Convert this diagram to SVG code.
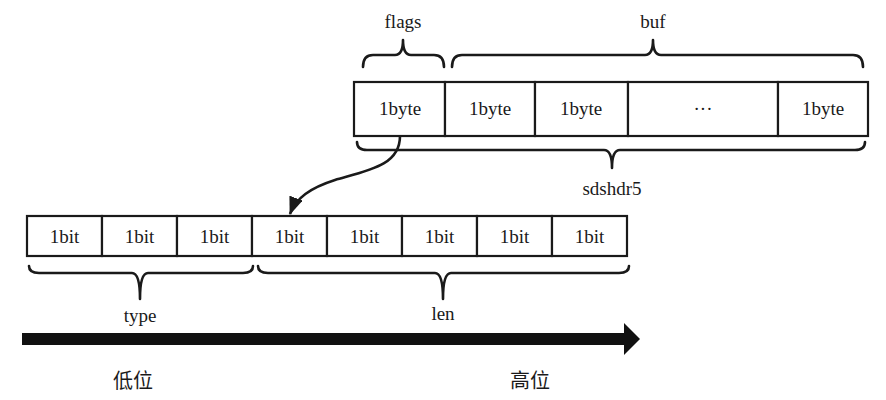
<svg xmlns="http://www.w3.org/2000/svg" width="886" height="400" viewBox="0 0 886 400">
<style>
.cell{fill:#fff;stroke:#1a1a1a;stroke-width:2.2}
.t{font-family:"Liberation Serif","Times New Roman",serif;font-size:19px;fill:#1a1a1a;text-anchor:middle}
.cjk{font-family:"Liberation Serif","Noto Sans CJK SC",serif;font-size:20px;fill:#1a1a1a;text-anchor:middle}
.brace{fill:none;stroke:#1a1a1a;stroke-width:2.6;stroke-linecap:round;stroke-linejoin:round}
.conn{fill:none;stroke:#1a1a1a;stroke-width:2.6}
</style>
<defs>
<marker id="ah" markerWidth="18" markerHeight="14" viewBox="0 0 18 14" refX="17" refY="7" orient="auto" markerUnits="userSpaceOnUse">
<path d="M0,0 L18,7 L0,14 z" fill="#1a1a1a"/>
</marker>
</defs>
<g id="sdshdr5">
<rect class="cell" x="354" y="82" width="91" height="54"/>
<rect class="cell" x="445" y="82" width="90" height="54"/>
<rect class="cell" x="535" y="82" width="93" height="54"/>
<rect class="cell" x="628" y="82" width="150" height="54"/>
<rect class="cell" x="778" y="82" width="90" height="54"/>
<text class="t" x="400" y="115">1byte</text>
<text class="t" x="490" y="115">1byte</text>
<text class="t" x="581" y="115">1byte</text>
<text class="t" x="703" y="115">···</text>
<text class="t" x="823" y="115">1byte</text>
</g>
<g id="flags-label">
<path class="brace" d="M363,67 Q363,55 373,55 L395,55 Q403,55 403,40 Q403,55 411,55 L434,55 Q444,55 444,67"/>
<text class="t" x="403" y="28">flags</text>
</g>
<g id="buf-label">
<path class="brace" d="M452,67 Q452,55 462,55 L645,55 Q653,55 653,40 Q653,55 661,55 L853,55 Q863,55 863,67"/>
<text class="t" x="653" y="28">buf</text>
</g>
<g id="sdshdr5-label">
<path class="brace" d="M357,142 Q357,150 367,150 L604,150 Q612,150 612,168 Q612,150 620,150 L855,150 Q865,150 865,142"/>
<text class="t" x="612" y="195">sdshdr5</text>
</g>
<g id="bits">
<rect class="cell" x="27" y="216" width="75" height="40"/>
<rect class="cell" x="102" y="216" width="75" height="40"/>
<rect class="cell" x="177" y="216" width="75" height="40"/>
<rect class="cell" x="252" y="216" width="75" height="40"/>
<rect class="cell" x="327" y="216" width="75" height="40"/>
<rect class="cell" x="402" y="216" width="75" height="40"/>
<rect class="cell" x="477" y="216" width="75" height="40"/>
<rect class="cell" x="552" y="216" width="75" height="40"/>
<text class="t" x="64.500" y="243">1bit</text>
<text class="t" x="139.500" y="243">1bit</text>
<text class="t" x="214.500" y="243">1bit</text>
<text class="t" x="289.500" y="243">1bit</text>
<text class="t" x="364.500" y="243">1bit</text>
<text class="t" x="439.500" y="243">1bit</text>
<text class="t" x="514.500" y="243">1bit</text>
<text class="t" x="589.500" y="243">1bit</text>
</g>
<g id="type-label">
<path class="brace" d="M29,266 Q29,273 39,273 L132,273 Q140,273 140,299 Q140,273 148,273 L243,273 Q253,273 253,266"/>
<text class="t" x="140" y="322">type</text>
</g>
<g id="len-label">
<path class="brace" d="M258,266 Q258,273 268,273 L435,273 Q443,273 443,299 Q443,273 451,273 L619,273 Q629,273 629,266"/>
<text class="t" x="443" y="320">len</text>
</g>
<g id="connectors">
<path class="conn" d="M400,136 C400,165 370,170 335,180 C310,188 296,198 290,214" marker-end="url(#ah)"/>
<path d="M22,333 L624,333 L624,323 L640,339 L624,355 L624,345 L22,345 z" fill="#111"/>
</g>
<g id="axis-labels">
<text class="cjk" x="133" y="388">低位</text>
<text class="cjk" x="530" y="388">高位</text>
</g>
</svg>
